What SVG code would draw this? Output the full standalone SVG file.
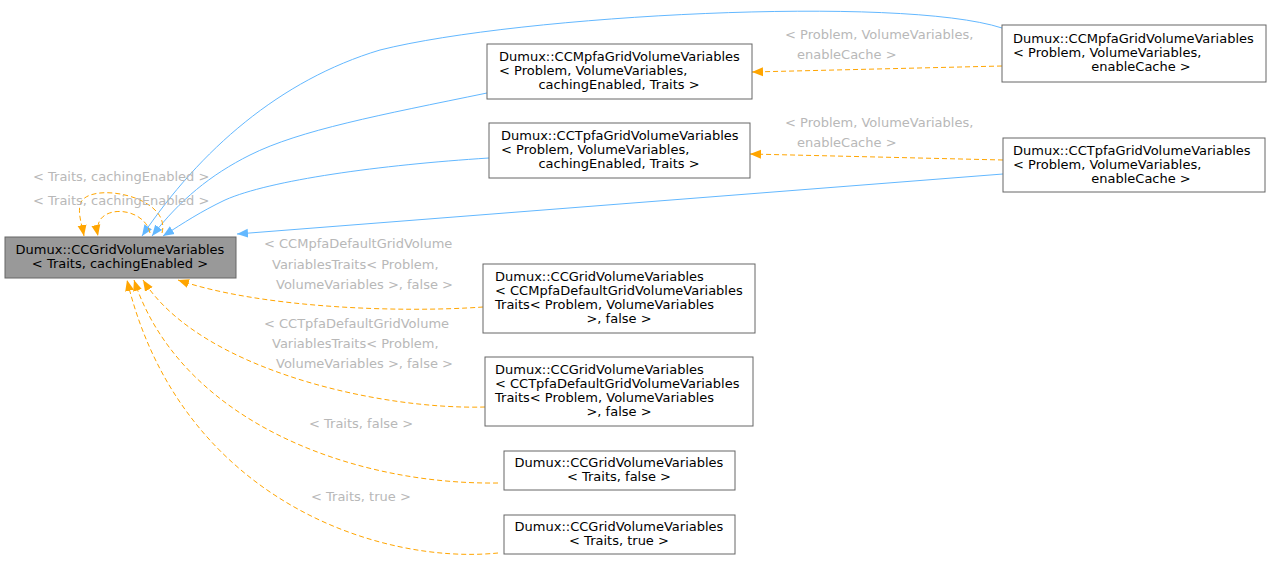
<svg xmlns="http://www.w3.org/2000/svg" width="1272" height="562" viewBox="0 0 1272 562">
<style>
text{font-family:"DejaVu Sans",sans-serif;font-size:13px;fill:#000}
.c{text-anchor:middle}
.l{fill:#b8b8b8}
.n{fill:#fff;stroke:#666;stroke-width:1}
.b{fill:none;stroke:#63b8ff;stroke-width:1}
.o{fill:none;stroke:#ffa500;stroke-width:1;stroke-dasharray:5,3}
</style>
<defs>
<marker id="ab" markerWidth="12" markerHeight="10" refX="11" refY="5" orient="auto" markerUnits="userSpaceOnUse"><path d="M0,0.5 L11,5 L0,9.5 z" fill="#63b8ff"/></marker>
<marker id="ao" markerWidth="12" markerHeight="10" refX="11" refY="5" orient="auto" markerUnits="userSpaceOnUse"><path d="M0,0.5 L11,5 L0,9.5 z" fill="#ffa500"/></marker>
</defs>
<rect width="1272" height="562" fill="#fff"/>
<g id="edges">
<path class="b" marker-end="url(#ab)" d="M1002,28 C900,-5 520,15 380,50 C280,80 200,150 142,236"/>
<path class="b" marker-end="url(#ab)" d="M487,93 C380,115 300,130 250,155 C210,175 180,200 152,236"/>
<path class="b" marker-end="url(#ab)" d="M489,158 C380,165 270,180 225,200 C200,212 185,222 163,236"/>
<path class="b" marker-end="url(#ab)" d="M1003,174 L237,234"/>
<path class="o" marker-end="url(#ao)" d="M1002,66 L752,72"/>
<path class="o" marker-end="url(#ao)" d="M1003,160 L750,154"/>
<path class="o" marker-end="url(#ao)" d="M483,307 C400,313 260,308 178,280"/>
<path class="o" marker-end="url(#ao)" d="M485,407 C380,410 200,370 143,280"/>
<path class="o" marker-end="url(#ao)" d="M498,483 C350,485 180,420 134,280"/>
<path class="o" marker-end="url(#ao)" d="M498,553 C380,565 180,500 127,280"/>
<path class="o" marker-end="url(#ao)" d="M162,233 C172,195 85,180 80,205 C78,215 82,225 84,236"/>
<path class="o" marker-end="url(#ao)" d="M150,233 C145,210 110,205 100,220 C97,226 97,231 98,236"/>
<text class="l" x="785" y="39">&lt; Problem, VolumeVariables,</text>
<text class="l" x="797" y="59">enableCache &gt;</text>
<text class="l" x="785" y="127">&lt; Problem, VolumeVariables,</text>
<text class="l" x="797" y="147">enableCache &gt;</text>
<text class="l" x="33" y="181">&lt; Traits, cachingEnabled &gt;</text>
<text class="l" x="33" y="205">&lt; Traits, cachingEnabled &gt;</text>
<text class="l" x="264" y="248">&lt; CCMpfaDefaultGridVolume</text>
<text class="l" x="272" y="269">VariablesTraits&lt; Problem,</text>
<text class="l" x="276" y="289">VolumeVariables &gt;, false &gt;</text>
<text class="l" x="264" y="328">&lt; CCTpfaDefaultGridVolume</text>
<text class="l" x="272" y="348">VariablesTraits&lt; Problem,</text>
<text class="l" x="276" y="368">VolumeVariables &gt;, false &gt;</text>
<text class="l" x="309" y="428">&lt; Traits, false &gt;</text>
<text class="l" x="311" y="501">&lt; Traits, true &gt;</text>
</g>
<g id="main"><rect x="5" y="237" width="231" height="41" fill="#999" stroke="#666"/>
<text class="c" x="120" y="254">Dumux::CCGridVolumeVariables</text><text class="c" x="120" y="268">&lt; Traits, cachingEnabled &gt;</text></g>
<g id="mpfaMid"><rect class="n" x="487" y="44" width="265" height="55"/>
<text x="499" y="61">Dumux::CCMpfaGridVolumeVariables</text><text x="499" y="75">&lt; Problem, VolumeVariables,</text><text class="c" x="619" y="89">cachingEnabled, Traits &gt;</text></g>
<g id="tpfaMid"><rect class="n" x="489" y="123" width="261" height="55"/>
<text x="501" y="140">Dumux::CCTpfaGridVolumeVariables</text><text x="501" y="154">&lt; Problem, VolumeVariables,</text><text class="c" x="619" y="168">cachingEnabled, Traits &gt;</text></g>
<g id="mpfaRight"><rect class="n" x="1002" y="25" width="264" height="57"/>
<text x="1013" y="43">Dumux::CCMpfaGridVolumeVariables</text><text x="1013" y="57">&lt; Problem, VolumeVariables,</text><text class="c" x="1141" y="71">enableCache &gt;</text></g>
<g id="tpfaRight"><rect class="n" x="1003" y="138" width="262" height="54"/>
<text x="1013" y="155">Dumux::CCTpfaGridVolumeVariables</text><text x="1013" y="169">&lt; Problem, VolumeVariables,</text><text class="c" x="1141" y="183">enableCache &gt;</text></g>
<g id="nodeA"><rect class="n" x="483" y="264" width="272" height="69"/>
<text x="495" y="281">Dumux::CCGridVolumeVariables</text><text x="495" y="295">&lt; CCMpfaDefaultGridVolumeVariables</text><text x="495" y="309">Traits&lt; Problem, VolumeVariables</text><text class="c" x="619" y="323">&gt;, false &gt;</text></g>
<g id="nodeB"><rect class="n" x="485" y="357" width="268" height="69"/>
<text x="495" y="374">Dumux::CCGridVolumeVariables</text><text x="495" y="388">&lt; CCTpfaDefaultGridVolumeVariables</text><text x="495" y="402">Traits&lt; Problem, VolumeVariables</text><text class="c" x="619" y="416">&gt;, false &gt;</text></g>
<g id="nodeC"><rect class="n" x="504" y="451" width="231" height="39"/>
<text class="c" x="619" y="467">Dumux::CCGridVolumeVariables</text><text class="c" x="619" y="481">&lt; Traits, false &gt;</text></g>
<g id="nodeD"><rect class="n" x="504" y="515" width="231" height="39"/>
<text class="c" x="619" y="531">Dumux::CCGridVolumeVariables</text><text class="c" x="619" y="545">&lt; Traits, true &gt;</text></g>
</svg>
